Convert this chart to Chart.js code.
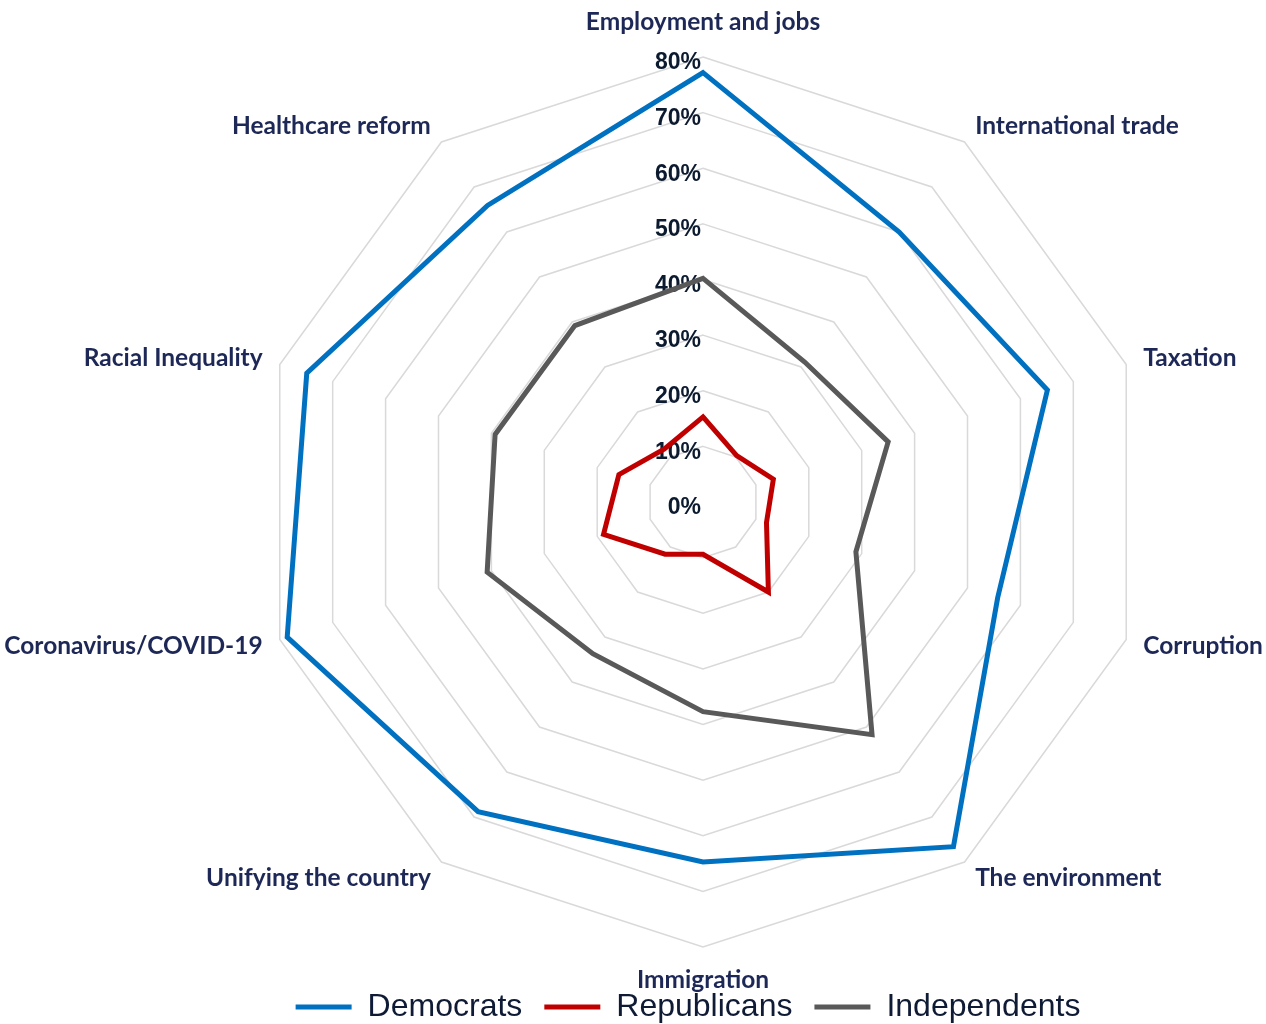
<!DOCTYPE html>
<html>
<head>
<meta charset="utf-8">
<script src="https://cdn.jsdelivr.net/npm/chart.js@4"></script>
<style>
  html, body { margin: 0; padding: 0; background: #ffffff; }
  #wrap { width: 1266px; height: 1024px; position: relative; }
</style>
</head>
<body>
<div id="wrap"><canvas id="c" width="1266" height="1024"></canvas></div>
<script>
const categories = [
  'Employment and jobs', 'International trade', 'Taxation', 'Corruption',
  'The environment', 'Immigration', 'Unifying the country',
  'Coronavirus/COVID-19', 'Racial Inequality', 'Healthcare reform'
];
const democrats   = [77.2, 60.0, 65.1, 55.7, 76.6, 64.7, 68.8, 78.6, 74.9, 65.9];
const republicans = [15.3, 10.3, 13.3, 12.0, 20.0, 9.4, 11.6, 18.8, 15.9, 11.8];
const independents= [40.2, 31.1, 35.0, 28.9, 51.7, 37.7, 33.7, 40.8, 39.3, 39.2];
const tickValues  = [0, 10, 20, 30, 40, 50, 60, 70, 80];
const tickLabels  = ['0%', '10%', '20%', '30%', '40%', '50%', '60%', '70%', '80%'];

const tickTextPlugin = {
  id: 'tickText',
  beforeDatasetsDraw(chart) {
    const s = chart.scales.r;
    const ctx = chart.ctx;
    ctx.save();
    ctx.font = 'bold 23px "Liberation Sans", Arial, sans-serif';
    ctx.fillStyle = '#0c1a30';
    ctx.textAlign = 'right';
    ctx.textBaseline = 'middle';
    tickValues.forEach((v, i) => {
      const d = s.getDistanceFromCenterForValue(v);
      ctx.fillText(tickLabels[i], s.xCenter - 2, s.yCenter - d + 6);
    });
    ctx.restore();
  }
};

const ds = (label, data, color) => ({
  label, data,
  borderColor: color, backgroundColor: color,
  borderWidth: 5, fill: false, pointRadius: 0, pointHoverRadius: 0,
  borderJoinStyle: 'miter', borderCapStyle: 'round', tension: 0
});

new Chart(document.getElementById('c'), {
  type: 'radar',
  data: {
    labels: categories,
    datasets: [
      ds('Democrats', democrats, '#0070C0'),
      ds('Republicans', republicans, '#C00000'),
      ds('Independents', independents, '#595959')
    ]
  },
  options: {
    responsive: false,
    animation: false,
    events: [],
    layout: { padding: { left: 110 } },
    scales: {
      r: {
        min: 0, max: 80,
        afterSetDimensions: (s) => {
          // chart geometry: centre and radius of the radar, labels placed by Chart.js around it
          s.left = -2000; s.right = 4000; s.top = -2000; s.bottom = 4000;
          s.xCenter = 703; s.yCenter = 502; s.drawingArea = 445;
        },
        ticks: { display: false, stepSize: 10 },
        grid: { color: '#d9d9d9', lineWidth: 1.5 },
        angleLines: { display: false },
        pointLabels: {
          color: '#1d2857',
          font: { family: 'Lato', weight: 'bold', size: 24.5, lineHeight: 0.1 },
          padding: (ctx) => ctx.index === 0 ? 34 : (ctx.index === 5 ? 32 : 18)
        }
      }
    },
    plugins: {
      legend: {
        position: 'bottom',
        maxHeight: 55,
        labels: {
          usePointStyle: true,
          pointStyle: 'line',
          pointStyleWidth: 56,
          padding: 22,
          color: '#0f1b35',
          font: { family: '"Liberation Sans", Arial, sans-serif', size: 32 }
        }
      },
      tooltip: { enabled: false }
    }
  },
  plugins: [tickTextPlugin]
});
</script>
</body>
</html>
